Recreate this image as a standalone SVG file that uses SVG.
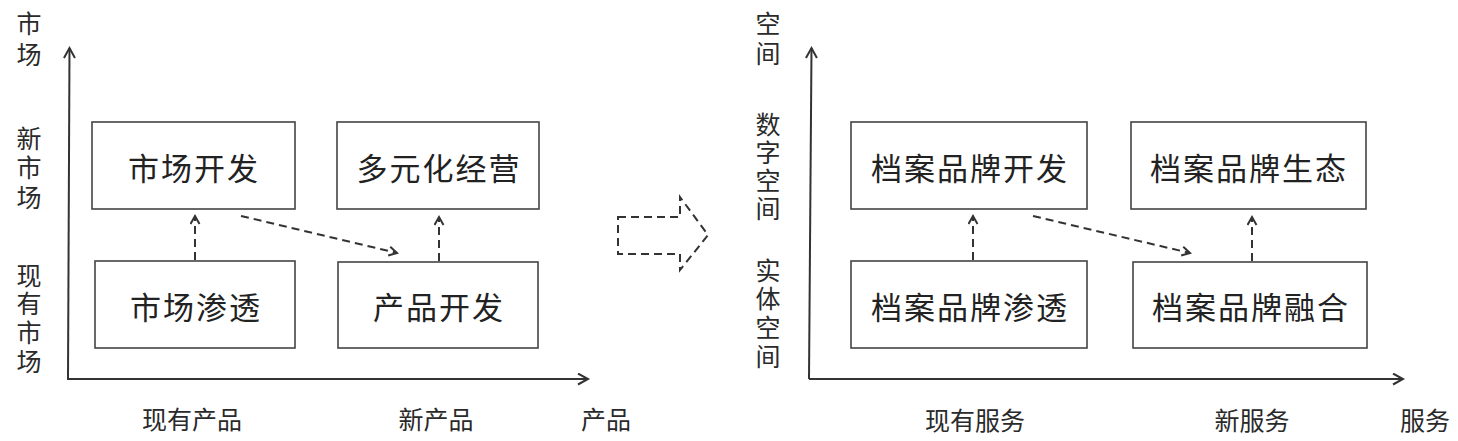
<svg xmlns="http://www.w3.org/2000/svg" width="1458" height="441" viewBox="0 0 1458 441">
<style>
.box{fill:#fff;stroke:#444;stroke-width:1.6}
.bt{font-family:"Noto Sans CJK SC","Noto Sans",sans-serif;font-size:31px;letter-spacing:2px;fill:#222;text-anchor:middle;dominant-baseline:central}
.al{font-family:"Noto Sans CJK SC","Noto Sans",sans-serif;font-size:25px;fill:#2a2a2a;text-anchor:middle;dominant-baseline:central}
.vl{font-family:"Noto Sans CJK SC","Noto Sans",sans-serif;font-size:25px;fill:#2a2a2a;writing-mode:vertical-rl;text-anchor:start}
.axis{fill:none;stroke:#333;stroke-width:2}
.dash{fill:none;stroke:#333;stroke-width:2;stroke-dasharray:8 5}
.head{fill:none;stroke:#333;stroke-width:2}
</style>
<defs>
<marker id="ah" markerUnits="userSpaceOnUse" markerWidth="14" markerHeight="14" refX="11" refY="6" orient="auto">
<path class="head" d="M1,0.5 L11,6 L1,11.5"/>
</marker>
<marker id="dh" markerUnits="userSpaceOnUse" markerWidth="12" markerHeight="12" refX="9" refY="5.5" orient="auto">
<path class="head" d="M1,1 L9,5.5 L1,10"/>
</marker>
</defs>

<g id="labels-left">
<text class="vl" x="29" y="10.5" style="letter-spacing:6px">市场</text>
<text class="vl" x="29" y="125.5" style="letter-spacing:4.5px">新市场</text>
<text class="vl" x="29" y="262.5" style="letter-spacing:3.7px">现有市场</text>
<text class="al" x="192" y="418">现有产品</text>
<text class="al" x="436" y="418">新产品</text>
<text class="al" x="606" y="418">产品</text>
</g>

<g id="labels-right">
<text class="vl" x="768" y="10.5" style="letter-spacing:5px">空间</text>
<text class="vl" x="768" y="111.5" style="letter-spacing:3.3px">数字空间</text>
<text class="vl" x="768" y="257.5" style="letter-spacing:3.7px">实体空间</text>
<text class="al" x="975" y="419">现有服务</text>
<text class="al" x="1252" y="419">新服务</text>
<text class="al" x="1425" y="419">服务</text>
</g>

<g id="node-scfz"><rect class="box" x="92" y="122" width="203" height="87"/><text class="bt" x="194" y="166">市场开发</text></g>
<g id="node-dyhjy"><rect class="box" x="337" y="122" width="202" height="87"/><text class="bt" x="439" y="166">多元化经营</text></g>
<g id="node-scst"><rect class="box" x="95" y="261" width="200" height="87"/><text class="bt" x="196" y="305">市场渗透</text></g>
<g id="node-cpkf"><rect class="box" x="338" y="262" width="200" height="86"/><text class="bt" x="439" y="305">产品开发</text></g>

<g id="node-dakf"><rect class="box" x="851" y="122" width="236" height="87"/><text class="bt" x="970" y="166">档案品牌开发</text></g>
<g id="node-dast"><rect class="box" x="1131" y="122" width="235" height="87"/><text class="bt" x="1249" y="166">档案品牌生态</text></g>
<g id="node-dasst"><rect class="box" x="851" y="261" width="236" height="87"/><text class="bt" x="970" y="305">档案品牌渗透</text></g>
<g id="node-darh"><rect class="box" x="1133" y="262" width="234" height="86"/><text class="bt" x="1251" y="305">档案品牌融合</text></g>

<g id="connectors">
<path class="axis" d="M68,379 L69.5,48" marker-end="url(#ah)"/>
<path class="axis" d="M67,379 L588,379" marker-end="url(#ah)"/>
<path class="dash" d="M195,260 L195,216" marker-end="url(#dh)"/>
<path class="dash" d="M439,261 L439,217" marker-end="url(#dh)"/>
<path class="dash" d="M241,216 L397,253" marker-end="url(#dh)"/>
<path class="dash" d="M618,217 L680,217 L680,197 L708,235 L680,270 L680,254 L618,254 Z"/>
<path class="axis" d="M809,379 L811.5,48" marker-end="url(#ah)"/>
<path class="axis" d="M809,379 L1403,379" marker-end="url(#ah)"/>
<path class="dash" d="M973,260 L973,216" marker-end="url(#dh)"/>
<path class="dash" d="M1252,261 L1252,217" marker-end="url(#dh)"/>
<path class="dash" d="M1033,216 L1190,253" marker-end="url(#dh)"/>
</g>
</svg>
